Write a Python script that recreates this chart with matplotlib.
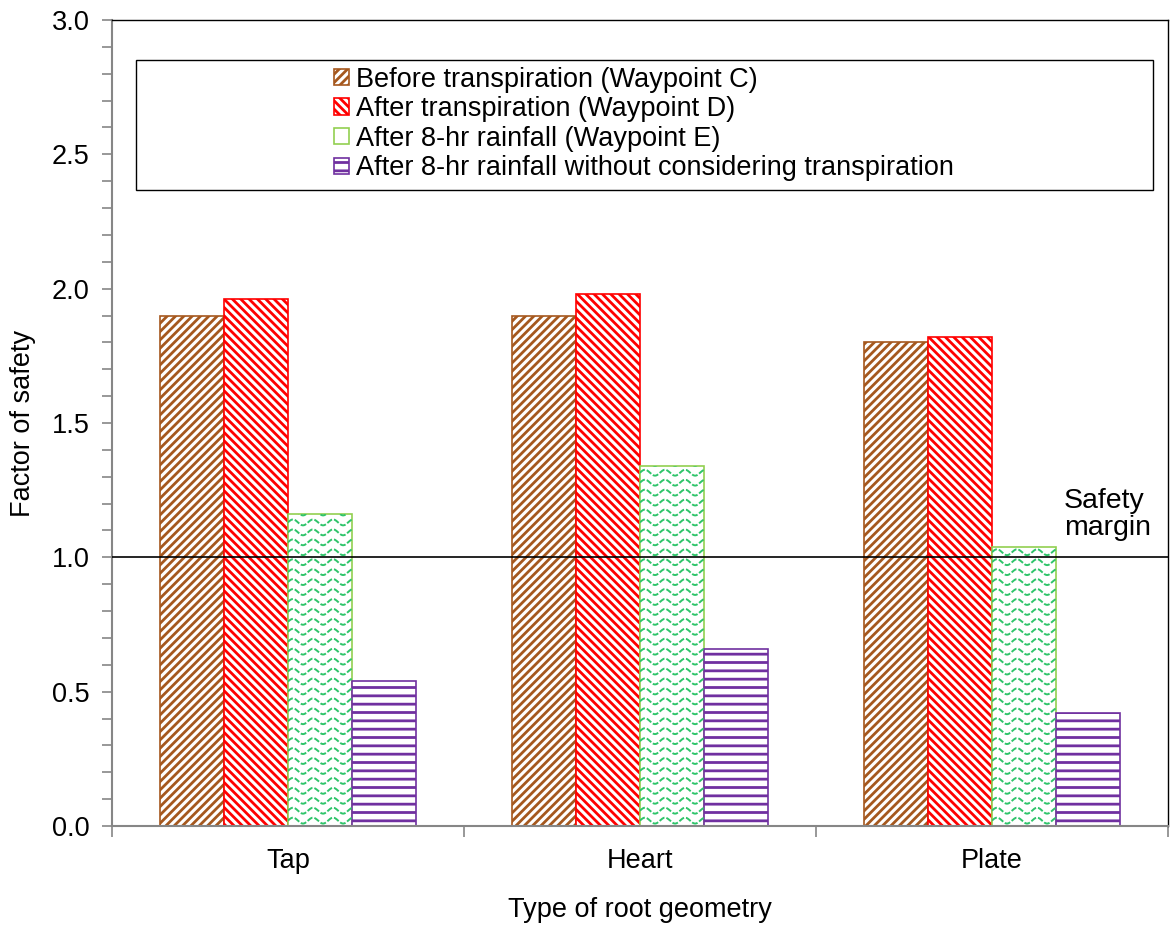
import numpy as np
import matplotlib
matplotlib.use("Agg")
import matplotlib.pyplot as plt
from matplotlib.patches import Rectangle

plt.rcParams['font.family'] = ['Liberation Sans', 'DejaVu Sans']
plt.rcParams['hatch.linewidth'] = 2.0

# data
roots = ["Tap", "Heart", "Plate"]
series = ["Before transpiration (Waypoint C)",
          "After transpiration (Waypoint D)",
          "After 8-hr rainfall (Waypoint E)",
          "After 8-hr rainfall without considering transpiration"]
before_c = [1.90, 1.90, 1.80]
after_d = [1.96, 1.98, 1.82]
rain_e = [1.16, 1.34, 1.04]
rain_no_tr = [0.54, 0.66, 0.42]
safety = 1.0

values = [before_c, after_d, rain_e, rain_no_tr]
edges = ["#a5581e", "#ff0000", "#92d050", "#7030a0"]
hatches = ["////", "\\\\\\\\", None, "--"]
fs = 19.5

fig = plt.figure(figsize=(11.71, 9.31), dpi=100)
ax = fig.add_axes([0.0956, 0.1128, 0.9018, 0.8657])

x = np.arange(len(roots))
w = 0.182
handles = []
for i, vals in enumerate(values):
    pos = x + (i - 1.5) * w
    bars = ax.bar(pos, vals, w, color="white", edgecolor=edges[i],
                  hatch=hatches[i], linewidth=1.2, label=series[i], zorder=2)
    handles.append(bars)
    if i == 2:
        # wavy hatch drawn by hand, clipped to each bar
        for b in bars:
            x0 = b.get_x()
            xs = np.linspace(x0, x0 + b.get_width(), 200)
            for yb in np.arange(0.02, b.get_height() + 0.04, 0.037):
                ln, = ax.plot(xs, yb + 0.011 * np.sin(2 * np.pi * (xs - x0) / 0.057),
                              color="#2fc46a", lw=1.4, ls=(0, (3, 1)), zorder=3)
                ln.set_clip_path(b)

ax.axhline(safety, color="black", lw=1.2, zorder=4)
ax.text(2.205, 1.16, "Safety\nmargin", fontsize=fs + 1, ha="left", va="center",
        linespacing=1.05)

ax.set_xlim(-0.5, 2.5)
ax.set_ylim(0, 3.0)
ax.set_xticks(x)
ax.set_xticklabels(roots, fontsize=fs)
ax.set_xticks([-0.5, 0.5, 1.5, 2.5], minor=True)
ax.tick_params(axis="x", which="major", length=0, pad=16)
ax.tick_params(axis="x", which="minor", length=8, color="#868686", direction="out", width=1.2)
ax.set_yticks(np.arange(0, 3.01, 0.5))
ax.set_yticklabels([f"{v:.1f}" for v in np.arange(0, 3.01, 0.5)], fontsize=fs)
ax.set_yticks(np.arange(0, 3.01, 0.1), minor=True)
ax.tick_params(axis="y", which="both", length=7, color="#868686", direction="out", width=1.2)
ax.tick_params(axis="y", which="major", pad=9)

for s in ["left", "bottom"]:
    ax.spines[s].set_color("#868686")
    ax.spines[s].set_linewidth(1.5)
for s in ["top", "right"]:
    ax.spines[s].set_color("black")
    ax.spines[s].set_linewidth(1.0)

ax.set_xlabel("Type of root geometry", fontsize=fs)
ax.set_ylabel("Factor of safety", fontsize=fs)
ax.xaxis.set_label_coords(0.5, -0.088)
ax.yaxis.set_label_coords(-0.072, 0.5)

# legend box
ax.add_patch(Rectangle((0.0227, 0.789), 0.963, 0.161, transform=ax.transAxes,
                       fill=False, edgecolor="black", lw=1.0, zorder=5))
leg = ax.legend(handles=handles, loc="center", bbox_to_anchor=(0.504, 0.871),
                frameon=False, fontsize=fs, handlelength=0.55, handleheight=0.55,
                handletextpad=0.25, labelspacing=0.13, borderpad=0)
# green legend handle: simple mark for the wave hatch
leg.legend_handles[2].set_hatch("vv")

fig.savefig("out.png", dpi=100)
